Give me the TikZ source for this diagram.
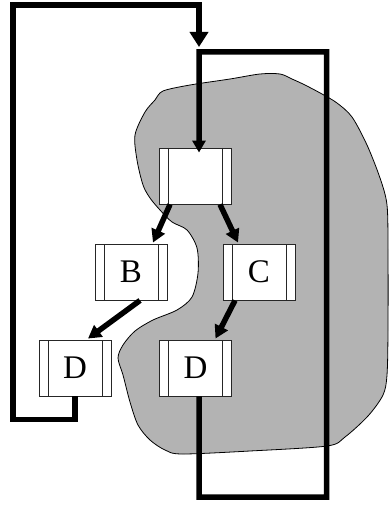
\documentclass[tikz,border=0pt]{standalone}
\usepackage{fontspec}
\setmainfont{Liberation Serif}
\usetikzlibrary{arrows.meta}
\definecolor{blobgray}{HTML}{B3B3B3}
\tikzset{
  rbox/.style={draw=black!85, line width=0.9bp, fill=white, minimum width=72bp, minimum height=56bp,
    inner sep=0pt, font=\fontsize{33bp}{33bp}\selectfont,
    path picture={
      \draw[black!85, line width=0.9bp] ([xshift=9bp]path picture bounding box.north west) -- ([xshift=9bp]path picture bounding box.south west);
      \draw[black!85, line width=0.9bp] ([xshift=-9bp]path picture bounding box.north east) -- ([xshift=-9bp]path picture bounding box.south east);
    }},
  arr/.style={line width=5.5bp, -{Triangle[width=14bp,length=13bp]}},
  loopline/.style={line width=5.5bp, line join=miter},
}
\begin{document}
\begin{tikzpicture}[x=1bp,y=-1bp]
\useasboundingbox (0,0) rectangle (389,506);
% blob
\draw[fill=blobgray, draw=black, line width=0.8bp] plot[smooth cycle, tension=0.5] coordinates {
(155,100) (163,91) (190,85) (230,79) (260,74) (280,74) (292,79) (305,85) (322,94) (337,103)
(352,117) (367,145) (380,178) (387,205) (388,250) (388,330) (387,375) (383,395) (368,416)
(345,437) (327,446) (250,451) (182,454) (165,450) (150,440) (138,425) (130,402) (123,375)
(118,358) (123,345) (135,331) (153,320) (177,310) (192,297) (198,273) (197,248) (187,230)
(172,222) (160,210) (150,198) (143,185) (137,160) (135,135) (145,112)};
% nodes
\node[rbox] (top) at (195,176) {};
\node[rbox] (B) at (131,272) {B};
\node[rbox] (C) at (259,272) {C};
\node[rbox] (DL) at (75,368) {D};
\node[rbox] (DR) at (195.5,368) {D};
% coordinates for loops
\coordinate (ltop) at (199,5);
\coordinate (ltip) at (199,47);
\coordinate (rstart) at (199,52);
% tree arrows
\draw[arr] ([xshift=-25bp]top.south) -- ([xshift=22bp,yshift=1bp]B.north);
\draw[arr] ([xshift=25bp]top.south) -- ([xshift=-21bp,yshift=1bp]C.north);
\draw[arr] ([xshift=9bp]B.south) -- ([xshift=13bp,yshift=1bp]DL.north);
\draw[arr] ([xshift=-24bp]C.south) -- ([xshift=20bp,yshift=1bp]DR.north);
% left loop
\draw[loopline, -{Triangle[width=18bp,length=15bp]}] (DL.south) -- (75,419.5) -- (13,419.5) -- (13,5) -- (ltop) -- (ltip);
% right loop
\draw[loopline, -{Triangle[width=13bp,length=12bp]}] ([xshift=3.5bp]DR.south) -- (199,497) -- (326.5,497) -- (326.5,52) -- (rstart) -- ([xshift=4bp,yshift=-5bp]top.north);
\end{tikzpicture}
\end{document}
